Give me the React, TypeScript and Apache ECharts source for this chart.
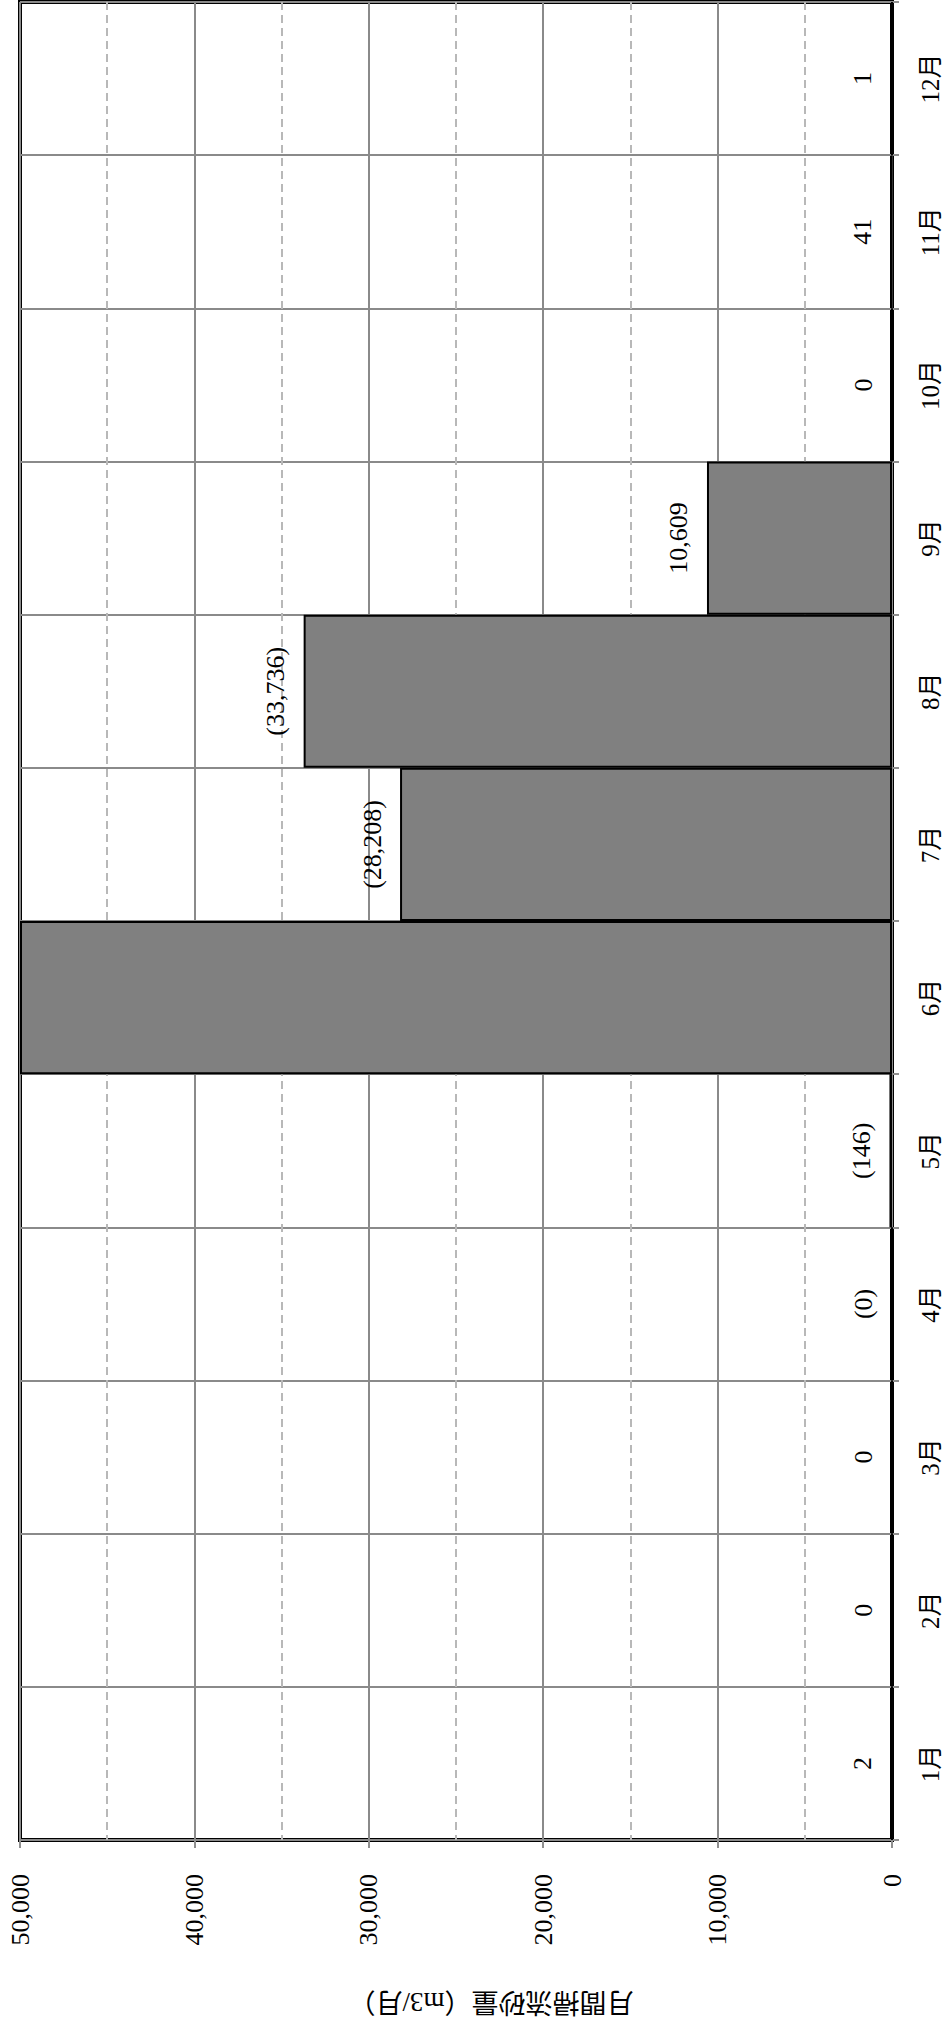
import { useEffect, useRef } from "react";
import * as echarts from "echarts";

const months = ["1月", "2月", "3月", "4月", "5月", "6月", "7月", "8月", "9月", "10月", "11月", "12月"];
const values = [2, 0, 0, 0, 146, 50000, 28208, 33736, 10609, 0, 41, 1];
const provisional = [false, false, false, true, true, false, true, true, false, false, false, false];
const labelHidden = [false, false, false, false, false, true, false, false, false, false, false, false];
const valueMin = 0;
const valueMax = 50000;
const valueInterval = 10000;
const axisTitle = "月間掃流砂量（m3/月）";

const FONT = "'Liberation Serif', 'DejaVu Serif', 'Noto Sans CJK JP', serif";

export default function App() {
  const ref = useRef<HTMLDivElement>(null);
  useEffect(() => {
    if (!ref.current) return;
    const chart = echarts.init(ref.current, null, { renderer: "svg" });
    const fmt = (v: number) => v.toLocaleString("en-US");
    chart.setOption({
      animation: false,
      backgroundColor: "#fff",
      grid: {
        left: 20,
        right: 56,
        top: 2,
        bottom: 184,
        show: true,
        borderColor: "#000",
        borderWidth: 4,
        backgroundColor: "transparent",
      },
      xAxis: {
        type: "value",
        inverse: true,
        position: "bottom",
        min: valueMin,
        max: valueMax,
        interval: valueInterval,
        axisLine: { show: false },
        axisTick: { show: true, length: 8, lineStyle: { color: "#8f8f8f", width: 2 } },
        axisLabel: {
          rotate: 90,
          margin: 34,
          fontSize: 26,
          color: "#000",
          fontFamily: FONT,
          formatter: (v: number) => fmt(v),
        },
        splitLine: { show: true, lineStyle: { color: "#8a8a8a", width: 2 } },
        minorTick: { show: false, splitNumber: 2 },
        minorSplitLine: { show: true, lineStyle: { color: "#b8b8b8", width: 2, type: [8, 5] } },
      },
      yAxis: {
        type: "category",
        position: "right",
        data: months,
        axisLine: { show: false },
        axisTick: { show: true, length: 7, lineStyle: { color: "#8f8f8f", width: 2 } },
        axisLabel: {
          interval: 0,
          rotate: 90,
          margin: 26,
          fontSize: 25,
          color: "#000",
          fontFamily: FONT,
        },
        splitLine: { show: true, lineStyle: { color: "#8a8a8a", width: 2 } },
      },
      graphic: [
        {
          type: "text",
          x: 491,
          y: 2002,
          rotation: Math.PI,
          style: {
            text: axisTitle,
            fontSize: 27,
            fontFamily: FONT,
            fill: "#000",
            align: "center",
            verticalAlign: "middle",
          },
        },
      ],
      series: [
        {
          type: "bar",
          barCategoryGap: "0%",
          data: values.map((v, i) => ({
            value: v,
            label: { show: !labelHidden[i] },
          })),
          itemStyle: { color: "#808080", borderColor: "#000", borderWidth: 2 },
          label: {
            show: true,
            position: "left",
            distance: 28,
            rotate: 90,
            align: "center",
            verticalAlign: "middle",
            fontSize: 26,
            color: "#000",
            fontFamily: FONT,
            formatter: (p: any) => {
              const i = p.dataIndex;
              const s = fmt(values[i]);
              return provisional[i] ? `(${s})` : s;
            },
          },
        },
      ],
    });
    return () => chart.dispose();
  }, []);
  return (
    <div
      ref={ref}
      style={{ position: "absolute", left: 0, top: 0, width: 948, height: 2024 }}
    />
  );
}
